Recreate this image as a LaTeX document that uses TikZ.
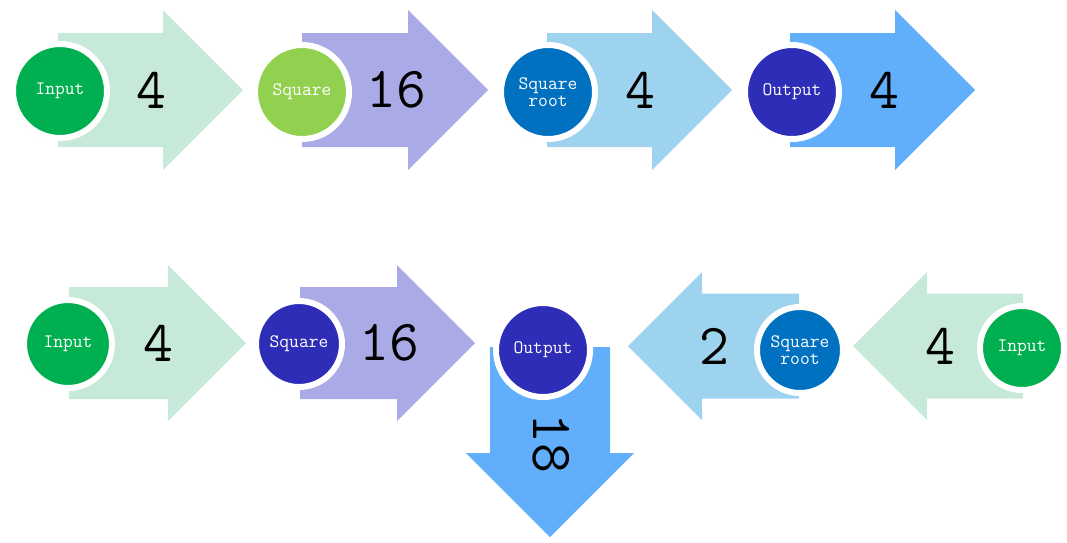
\documentclass[tikz,border=0pt]{standalone}
\usepackage{fontspec}
\usepackage{xcolor}
\usetikzlibrary{shadows}
\definecolor{mintA}{HTML}{C6E9DA}
\definecolor{lavA}{HTML}{AAAAE6}
\definecolor{skyA}{HTML}{9DD3EE}
\definecolor{blueA}{HTML}{61AEFB}
\definecolor{inGreen}{HTML}{00B050}
\definecolor{sqGreen}{HTML}{92D050}
\definecolor{rootBlue}{HTML}{0070C0}
\definecolor{outBlue}{HTML}{2E2DB8}
% block arrow from the local origin: colour, length, half shaft, half head
\newcommand{\flowarrow}[4]{%
  \fill[#1] (0,-#3) -- (#2-#4,-#3) -- (#2-#4,-#4) -- (#2,0) -- (#2-#4,#4)
    -- (#2-#4,#3) -- (0,#3) -- cycle;}
\tikzset{
  num/.style={inner sep=0pt, text=black, font=\ttfamily\fontsize{58}{58}\selectfont},
  stage/.style={circle, draw=white, line width=6pt, inner sep=0pt, minimum size=94pt,
    text=white, align=center, font=\ttfamily\fontsize{19}{17}\selectfont,
    drop shadow={opacity=0.18, shadow xshift=-1.5pt, shadow yshift=-2pt}},
}

\begin{document}
\begin{tikzpicture}[x=1pt,y=-1pt]
	\useasboundingbox (0,0) rectangle (1067,542);
	
	% top row: arrows
	\begin{scope}[shift={(58,90)}] \flowarrow{mintA}{185}{57}{80} \end{scope}
	\begin{scope}[shift={(302,90)}] \flowarrow{lavA}{186}{57}{80} \end{scope}
	\begin{scope}[shift={(547,90)}] \flowarrow{skyA}{185}{57}{80} \end{scope}
	\begin{scope}[shift={(790,90)}] \flowarrow{blueA}{185}{57}{80} \end{scope}
	\node[num] (n1) at (151,90) {4};
	\node[num] (n2) at (396,90) {16};
	\node[num] (n3) at (640,90) {4};
	\node[num] (n4) at (884,90) {4};
	
	% top row: steps
	\node[stage, fill=inGreen] (in1) at (60,91) {Input};
	\node[stage, fill=sqGreen] (sq1) at (302,92) {Square};
	\node[stage, fill=rootBlue] (rt1) at (548,92) {Square\\root};
	\node[stage, fill=outBlue] (out1) at (792,92) {Output};
	
	% bottom row: arrows
	\begin{scope}[shift={(69,343)}] \flowarrow{mintA}{177}{56}{78} \end{scope}
	\begin{scope}[shift={(300,343)}] \flowarrow{lavA}{175}{56}{78} \end{scope}
	\begin{scope}[shift={(550,347)}, rotate=-90] \flowarrow{blueA}{190}{60}{84} \end{scope}
	\begin{scope}[shift={(799,346)}, xscale=-1] \flowarrow{skyA}{171}{52.5}{74} \end{scope}
	\begin{scope}[shift={(1023,346)}, xscale=-1] \flowarrow{mintA}{170}{52.5}{74} \end{scope}
	\node[num] (n5) at (158,343) {4};
	\node[num] (n6) at (389,343) {16};
	\node[num, rotate=-90] (n7) at (551,443) {18};
	\node[num] (n8) at (714,346) {2};
	\node[num] (n9) at (940,346) {4};
	
	% bottom row: steps
	\node[stage, fill=inGreen, minimum size=88pt] (in2) at (68,344) {Input};
	\node[stage, fill=outBlue, minimum size=86pt] (sq2) at (299,344) {Square};
	\node[stage, fill=outBlue] (out2) at (543,350) {Output};
	\node[stage, fill=rootBlue, minimum size=86pt] (rt2) at (800,350) {Square\\root};
	\node[stage, fill=inGreen, minimum size=84pt] (in3) at (1022,348) {Input};
\end{tikzpicture}
\end{document}
